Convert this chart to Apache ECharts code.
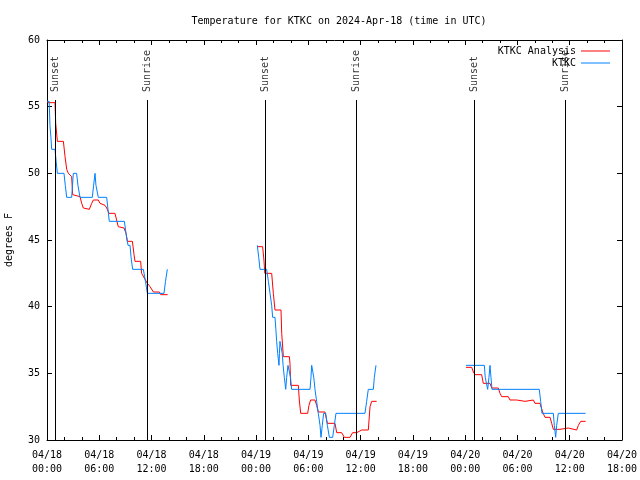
<!DOCTYPE html>
<html>
<head>
<meta charset="utf-8">
<script src="https://cdn.jsdelivr.net/npm/echarts@6/dist/echarts.min.js"></script>
<style>html,body{margin:0;padding:0;background:#fff}#c{width:640px;height:480px}</style>
</head>
<body>
<div id="c"></div>
<script>
// x values: hours after 2024-04-18 00:00 UTC; null separates gaps
const analysisHours = [0.04,0.92,1.0,1.19,1.88,2.07,2.26,2.45,2.83,2.95,3.79,3.98,4.17,4.86,5.13,5.32,5.89,6.08,6.66,6.85,7.11,7.80,7.99,8.18,8.84,9.07,9.22,9.80,9.99,10.1,10.75,10.86,11.52,11.83,12.21,12.9,13.05,13.85,
  null,
  24.14,24.75,24.9,25.0,25.79,25.98,26.17,26.86,26.94,27.13,27.82,27.89,27.97,28.85,28.96,29.12,29.92,30.07,30.26,30.76,30.95,31.14,31.91,32.18,33.06,33.25,33.82,34.13,34.78,35.08,35.55,36.12,36.88,37.08,37.27,37.84,
  null,
  48.09,48.75,48.94,49.13,49.89,50.08,50.85,51.04,51.8,52.0,52.19,52.95,53.14,53.91,54.1,54.87,55.06,55.83,56.01,56.59,56.89,57.16,57.74,57.93,58.12,58.88,59.07,59.84,60.03,60.8,60.99,61.26,61.83];
const analysisTemps = [55.3,55.3,53.75,52.4,52.4,51.25,50.3,50.0,49.75,48.4,48.25,47.75,47.4,47.3,47.75,48.0,48.0,47.75,47.6,47.4,47.0,47.0,46.5,46.0,45.9,45.5,44.9,44.9,43.9,43.4,43.4,42.5,41.75,41.5,41.1,41.1,40.9,40.9,
  null,
  44.5,44.5,43.5,42.5,42.5,41.0,39.75,39.75,38.0,36.25,36.25,35.75,34.1,34.1,33.0,32.0,32.0,32.6,33.0,33.0,32.6,32.1,32.1,31.25,31.25,30.55,30.55,30.2,30.2,30.55,30.55,30.75,30.75,32.5,32.9,32.9,
  null,
  35.45,35.45,35.1,34.9,34.9,34.25,34.25,33.9,33.9,33.5,33.25,33.25,33.0,33.0,32.9,32.9,33.0,33.0,32.75,32.75,32.1,31.7,31.7,31.25,30.8,30.8,30.9,30.9,30.75,30.75,31.1,31.4,31.4];

const obsHours = [0.0,0.25,0.34,0.45,0.54,0.92,1.05,1.19,1.95,2.1,2.26,2.83,2.93,3.02,3.4,3.55,3.79,5.2,5.35,5.51,5.62,5.89,6.85,7.0,7.15,8.88,9.07,9.3,9.53,9.65,9.83,11.06,11.3,11.52,13.43,13.6,13.81,
  null,
  24.14,24.3,24.45,25.21,25.41,25.6,25.79,25.9,26.17,26.27,26.36,26.48,26.63,26.68,26.74,26.88,27.0,27.1,27.24,27.4,27.51,27.66,27.8,27.95,28.08,30.19,30.3,30.38,30.5,30.62,30.76,30.95,31.14,31.34,31.45,31.6,31.75,31.99,32.18,32.41,32.79,32.98,33.17,36.5,36.69,36.88,37.46,37.57,37.76,
  null,
  48.09,50.2,50.3,50.47,50.58,50.73,50.85,50.96,51.08,56.51,56.66,56.82,58.12,58.23,58.39,58.5,58.69,61.83];
const obsTemps = [55.4,55.4,53.6,52.7,51.8,51.8,50.9,50.0,50.0,49.1,48.2,48.2,49.1,50.0,50.0,49.1,48.2,48.2,49.1,50.0,49.1,48.2,48.2,47.3,46.4,46.4,45.5,44.6,44.6,43.7,42.8,42.8,41.9,41.0,41.0,41.9,42.8,
  null,
  44.6,43.7,42.8,42.8,41.9,41.0,40.1,39.2,39.2,38.3,37.4,36.5,35.6,36.5,37.4,37.4,36.5,35.6,34.7,33.8,34.7,35.6,35.6,34.7,33.8,33.8,34.7,35.6,35.6,34.7,33.8,32.9,32.0,31.1,30.2,31.1,32.0,32.0,31.1,30.2,30.2,31.1,32.0,32.0,32.9,33.8,33.8,34.7,35.6,
  null,
  35.6,35.6,34.7,34.7,33.8,34.7,35.6,34.7,33.8,33.8,32.9,32.0,32.0,31.1,30.2,31.1,32.0,32.0];

const eventNames = ['Sunset','Sunrise','Sunset','Sunrise','Sunset','Sunrise'];
const eventHours = [0.93, 11.53, 25.02, 35.55, 49.05, 59.45];

const xTickLabels = ['04/18\n00:00','04/18\n06:00','04/18\n12:00','04/18\n18:00','04/19\n00:00','04/19\n06:00','04/19\n12:00','04/19\n18:00','04/20\n00:00','04/20\n06:00','04/20\n12:00','04/20\n18:00'];
const yTicks = [30,35,40,45,50,55,60];

const EVENT_LINE_TOP = 55.5;   // where the vertical line ends (below its label)
const EVENT_LABEL_Y = 56.1;    // anchor of the rotated label

function pairs(xs, ys) {
  return xs.map((x, i) => (x === null || ys[i] === null) ? ['-', '-'] : [x, ys[i]]);
}

const FONT = 'DejaVu Sans Mono';
const txt = {fontFamily: FONT, fontSize: 10, color: '#000'};

const axisCommon = {
  type: 'value',
  axisLine: {show: true, onZero: false, lineStyle: {color: '#000', width: 1}},
  axisTick: {show: true, inside: true, length: 5, lineStyle: {color: '#000'}},
  splitLine: {show: false}
};

const chart = echarts.init(document.getElementById('c'), null, {renderer: 'canvas'});
chart.setOption({
  animation: false,
  backgroundColor: '#fff',
  title: {
    text: 'Temperature for KTKC on 2024-Apr-18 (time in UTC)',
    left: 334, top: 11, textAlign: 'center',
    textStyle: {fontFamily: FONT, fontSize: 10, fontWeight: 'normal', color: '#000'}
  },
  legend: [
    {data: ['KTKC Analysis'], orient: 'vertical', right: 30, top: 46, padding: 0, align: 'right',
     icon: 'rect', itemWidth: 29, itemHeight: 1, textStyle: txt, selectedMode: false},
    {data: ['KTKC'], orient: 'vertical', right: 30, top: 58, padding: 0, align: 'right',
     icon: 'rect', itemWidth: 29, itemHeight: 1, textStyle: txt, selectedMode: false}
  ],
  grid: {left: 47, right: 18, top: 40, bottom: 40, containLabel: false, outerBoundsMode: 'none'},
  xAxis: [
    Object.assign({}, axisCommon, {
      position: 'bottom', min: 0, max: 66, interval: 6,
      minorTick: {show: true, splitNumber: 3, length: 3, lineStyle: {color: '#000'}},
      axisLabel: {show: true, margin: 8, lineHeight: 14, fontFamily: FONT, fontSize: 10, color: '#000',
        formatter: v => xTickLabels[Math.round(v / 6)] || ''}
    }),
    Object.assign({}, axisCommon, {
      position: 'top', min: 0, max: 66, interval: 6,
      minorTick: {show: true, splitNumber: 3, length: 3, lineStyle: {color: '#000'}},
      axisLabel: {show: false}
    })
  ],
  yAxis: [
    Object.assign({}, axisCommon, {
      position: 'left', min: yTicks[0], max: yTicks[yTicks.length - 1], interval: 5,
      name: 'degrees F', nameLocation: 'middle', nameGap: 33, nameRotate: 90,
      nameTextStyle: {fontFamily: FONT, fontSize: 10, color: '#000'},
      axisLabel: {show: true, margin: 7, fontFamily: FONT, fontSize: 10, color: '#000'}
    }),
    Object.assign({}, axisCommon, {
      position: 'right', min: yTicks[0], max: yTicks[yTicks.length - 1], interval: 5,
      axisLabel: {show: false}
    })
  ],
  series: [
    {
      name: 'KTKC Analysis', type: 'line', xAxisIndex: 0, yAxisIndex: 0,
      data: pairs(analysisHours, analysisTemps), symbol: 'none', connectNulls: false,
      lineStyle: {color: '#ff0000', width: 1}, itemStyle: {color: '#ff0000'}
    },
    {
      name: 'KTKC', type: 'line', xAxisIndex: 0, yAxisIndex: 0,
      data: pairs(obsHours, obsTemps), symbol: 'none', connectNulls: false,
      lineStyle: {color: '#0080ff', width: 1}, itemStyle: {color: '#0080ff'}
    },
    {
      name: 'events', type: 'scatter', xAxisIndex: 0, yAxisIndex: 0,
      symbolSize: 0, silent: true,
      data: eventHours.map((h, i) => ({name: eventNames[i], value: [h, EVENT_LABEL_Y]})),
      label: {show: true, formatter: p => p.name, position: 'inside', rotate: 90,
        align: 'left', verticalAlign: 'middle', fontFamily: FONT, fontSize: 10, color: '#000'},
      markLine: {
        silent: true, symbol: ['none', 'none'], label: {show: false},
        lineStyle: {color: '#000', width: 1, type: 'solid'},
        data: eventHours.map(h => [{coord: [h, yTicks[0]]}, {coord: [h, EVENT_LINE_TOP]}])
      }
    }
  ]
});
</script>
</body>
</html>
